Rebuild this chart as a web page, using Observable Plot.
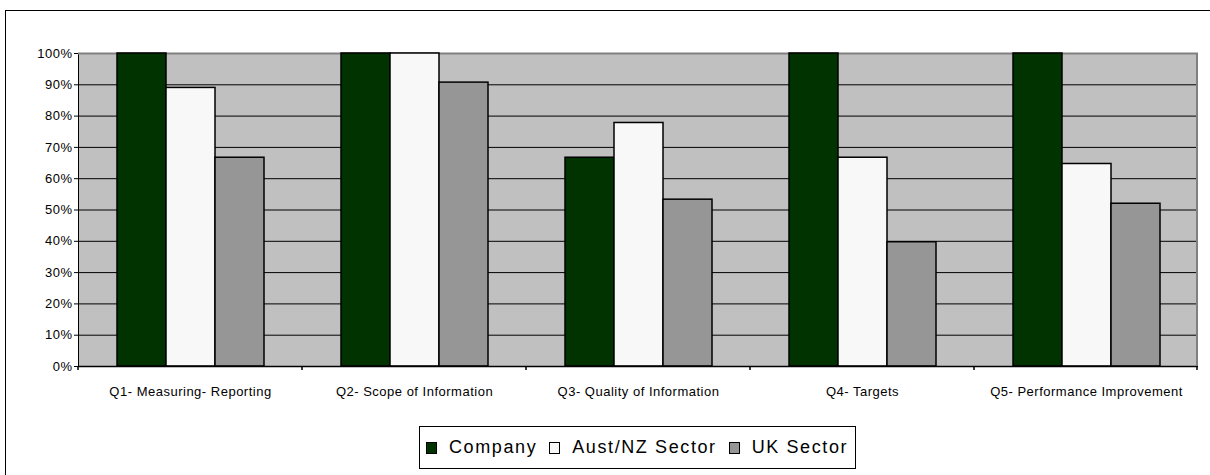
<!DOCTYPE html>
<html><head><meta charset="utf-8">
<script src="https://cdn.jsdelivr.net/npm/d3@7"></script>
<script src="https://cdn.jsdelivr.net/npm/@observablehq/plot@0.6"></script>
<style>
html,body{margin:0;padding:0;background:#fff;overflow:hidden;}
#wrap{position:relative;width:1210px;height:475px;overflow:hidden;font-family:"Liberation Sans",Arial,sans-serif;}
#border{position:absolute;left:5px;top:10px;width:1400px;height:700px;border-top:1px solid #000;border-left:1px solid #000;}
#chart{position:absolute;left:0;top:0;}
#legend{position:absolute;left:419px;top:426px;width:435px;height:41px;border:1px solid #000;background:#fff;display:flex;align-items:center;font-size:18px;letter-spacing:1.6px;color:#000;white-space:nowrap;}
#legend .sw{display:inline-block;width:9px;height:10px;border:1px solid #000;margin-left:12px;margin-right:12px;}
#legend .sw:first-child{margin-left:6px;}
</style>
</head><body>
<div id="wrap"><div id="border"></div><div id="chart"></div><div id="legend"></div></div>
<script>
const categories = ["Q1- Measuring- Reporting", "Q2- Scope of Information", "Q3- Quality of Information", "Q4- Targets", "Q5- Performance Improvement"];
const series = ["Company", "Aust/NZ Sector", "UK Sector"];
const company = [100, 100, 66.7, 100, 100];
const austNZ = [89, 100, 77.8, 66.7, 64.7];
const uk = [66.7, 90.7, 53.3, 39.7, 52];
const seriesColors = ["#003300", "#F8F8F8", "#969696"];
const yTicks = [0, 10, 20, 30, 40, 50, 60, 70, 80, 90, 100];
const gridTicks = [10, 20, 30, 40, 50, 60, 70, 80, 90];

const values = [company, austNZ, uk];
const data = categories.flatMap((c, i) => series.map((s, j) => ({category: c, series: s, value: values[j][i]})));

const plot = Plot.plot({
  width: 1210, height: 420,
  marginTop: 53, marginBottom: 54, marginLeft: 78, marginRight: 12,
  style: {fontFamily: "'Liberation Sans', Arial, sans-serif", fontSize: "13px", background: "transparent", color: "#000", letterSpacing: "0.5px"},
  fx: {domain: categories, padding: 0, tickSize: 0, tickPadding: 20, label: null, grid: false},
  x: {domain: series, paddingInner: 0, paddingOuter: 0.74, axis: null},
  y: {domain: [0, 100], ticks: yTicks, tickFormat: d => d + "%", tickSize: 4, tickPadding: 2, label: null, line: true},
  color: {domain: series, range: seriesColors},
  marks: [
    Plot.ruleY(gridTicks, {stroke: "#000", strokeWidth: 1}),
    Plot.ruleY([100], {stroke: "#808080", strokeWidth: 2}),
    Plot.barY(data, {fx: "category", x: "series", y: "value", fill: "series", stroke: "#000", strokeWidth: 1.5}),
    Plot.ruleY([0], {stroke: "#000", strokeWidth: 1.5})
  ]
});
document.getElementById("chart").appendChild(plot);

// decorations: plot-area background, right border and category boundary ticks
const svg = d3.select(plot);
const fxS = plot.scale("fx");
const yS = plot.scale("y");
const r0 = fxS.range[0], r1 = fxS.range[1];
const step = (r1 - r0) / categories.length;
const yTop = Math.min(...yS.range), yBot = Math.max(...yS.range);
svg.insert("rect", ":first-child").attr("x", r0).attr("y", yTop).attr("width", r1 - r0).attr("height", yBot - yTop)
  .attr("fill", "#C0C0C0").attr("shape-rendering", "crispEdges");
svg.append("line").attr("x1", r1 - 1).attr("x2", r1 - 1).attr("y1", yTop).attr("y2", yBot)
  .attr("stroke", "#808080").attr("stroke-width", 2);
for (let i = 0; i <= categories.length; i++) {
  const x = r0 + i * step - (i === categories.length ? 1 : 0);
  svg.append("line").attr("x1", x).attr("x2", x).attr("y1", yBot).attr("y2", yBot + 4)
    .attr("stroke", "#000").attr("stroke-width", 1.5);
}

// legend
const legend = d3.select("#legend");
series.forEach((s, i) => {
  legend.append("span").attr("class", "sw").style("background", seriesColors[i]);
  legend.append("span").text(s);
});
</script>
</body></html>
